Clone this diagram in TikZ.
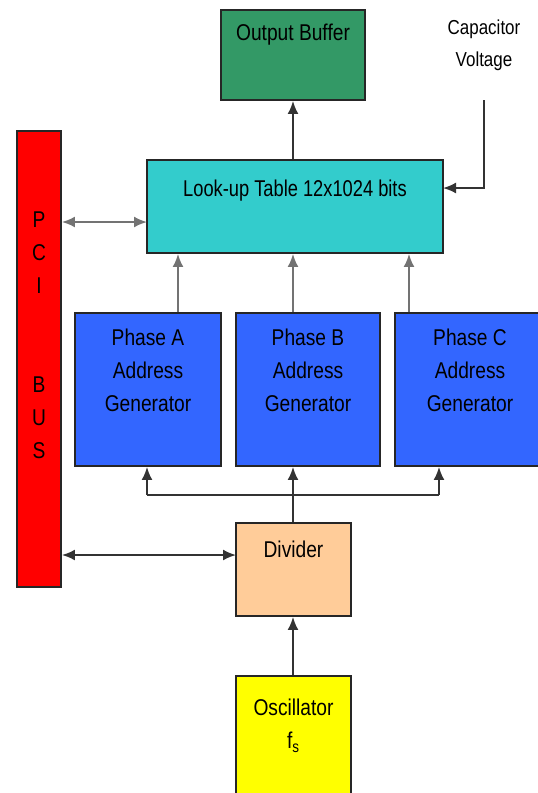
\documentclass[tikz,border=0pt]{standalone}
\usepackage{fontspec}
\setmainfont{Liberation Sans}[FakeStretch=0.84]
\usetikzlibrary{arrows.meta}

\definecolor{bufgreen}{RGB}{51,153,102}
\definecolor{lutcyan}{RGB}{51,204,204}
\definecolor{phblue}{RGB}{51,102,255}
\definecolor{divpeach}{RGB}{255,204,153}
\definecolor{pcired}{RGB}{255,0,0}
\definecolor{oscyellow}{RGB}{255,255,0}

\tikzset{
	blk/.style={draw=black!85, line width=1.1pt, rectangle, inner sep=0pt},
	txt/.style={align=center, font=\fontsize{13}{18.8}\selectfont, inner sep=0pt},
	wire/.style={line width=1.1pt, draw=black!80},
	gwire/.style={line width=1.1pt, draw=black!55},
}

\begin{document}
\begin{tikzpicture}[x=0.2mm, y=-0.2mm, >={Latex[length=2.6mm,width=2.2mm]}]
	\useasboundingbox (0,0) rectangle (537,793);
	% blocks
	\node (obuf) [blk, fill=bufgreen, minimum width=28.8mm, minimum height=18mm] at (293,55) {};
	\node (lut)  [blk, fill=lutcyan, minimum width=59.2mm, minimum height=18.6mm] at (295,206.5) {};
	\node (pci)  [blk, fill=pcired, minimum width=8.8mm, minimum height=91.2mm] at (39,359) {};
	\node (pha)  [blk, fill=phblue, minimum width=29.2mm, minimum height=30.6mm] at (148,389.5) {};
	\node (phb)  [blk, fill=phblue, minimum width=28.8mm, minimum height=30.6mm] at (308,389.5) {};
	\node (phc)  [blk, fill=phblue, minimum width=30mm, minimum height=30.6mm] at (470,389.5) {};
	\node (div)  [blk, fill=divpeach, minimum width=23mm, minimum height=18.6mm] at (293.5,569.5) {};
	\node (osc)  [blk, fill=oscyellow, minimum width=23mm, minimum height=26.8mm] at (293.5,743) {};
	% texts
	\node (obuft) [txt, anchor=base] at (293,40) {Output Buffer};
	\node (lutt)  [txt, anchor=base] at (295,196) {\addfontfeature{FakeStretch=0.8}Look-up Table 12x1024 bits};
	\node (pcit)  [txt, anchor=north] at (39,211) {P\\C\\I\\[37.6pt]B\\U\\S};
	\node (phat)  [txt, anchor=north] at (148,329) {Phase A\\Address\\Generator};
	\node (phbt)  [txt, anchor=north] at (308,329) {Phase B\\Address\\Generator};
	\node (phct)  [txt, anchor=north] at (470,329) {Phase C\\Address\\Generator};
	\node (divt)  [txt, anchor=base] at (293.5,557) {Divider};
	\node (osct)  [txt, anchor=north] at (293.5,699) {Oscillator\\f\textsubscript{s}};
	\node (capv)  [txt, anchor=north, font=\fontsize{11.5}{18}\selectfont] at (484,20) {Capacitor\\Voltage};
	% taps
	\coordinate (cvtop) at (484,100);
	\coordinate (cvin)  at (443,188);
	\coordinate (lutin) at (147,222);
	\coordinate (divin) at (236,555);
	\coordinate (tapA)  at (178,0);
	\coordinate (tapB)  at (293,0);
	\coordinate (tapC)  at (409,0);
	\coordinate (busL)  at (147,495);
	\coordinate (busR)  at (439,495);
	% connectors
	\draw [wire, ->] (lut.north -| tapB) -- (obuf.south -| tapB);
	\draw [wire, ->] (cvtop) |- (cvin);
	\draw [gwire, <->] (pci.east |- lutin) -- (lutin);
	\draw [gwire, ->] (pha.north -| tapA) -- (lut.south -| tapA);
	\draw [gwire, ->] (phb.north -| tapB) -- (lut.south -| tapB);
	\draw [gwire, ->] (phc.north -| tapC) -- (lut.south -| tapC);
	\draw [wire] (busL) -- (busR);
	\draw [wire, ->] (busL) -- (busL |- pha.south);
	\draw [wire, ->] (busR) -- (busR |- phc.south);
	\draw [wire, ->] (div.north -| tapB) -- (phb.south -| tapB);
	\draw [wire, <->] (pci.east |- divin) -- (divin);
	\draw [wire, ->] (osc.north -| tapB) -- (div.south -| tapB);
\end{tikzpicture}
\end{document}
